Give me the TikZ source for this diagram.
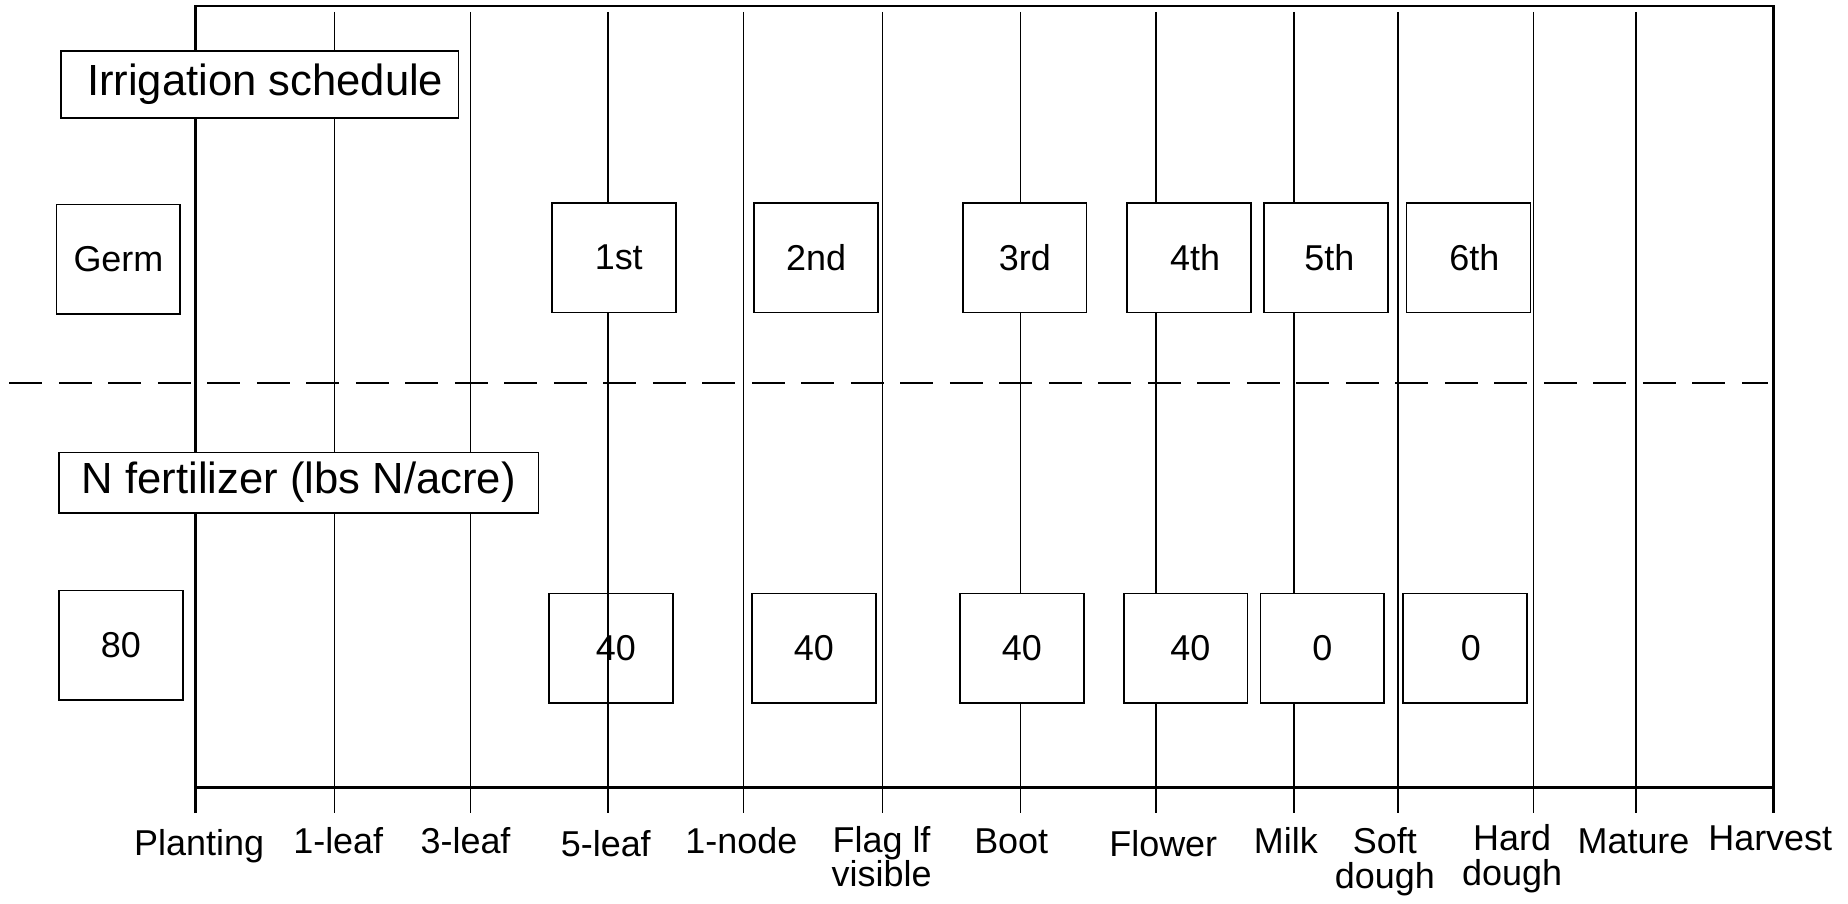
\documentclass[tikz,border=0pt]{standalone}
\usepackage{fontspec}
\setmainfont{Liberation Sans}

\begin{document}
\begin{tikzpicture}[x=0.5pt,y=-0.5pt,
  stagebox/.style={draw,line width=0.7pt,fill=white,minimum width=52.5pt,minimum height=46.5pt,inner sep=0pt,font=\fontsize{15.25}{18}\selectfont},
  titlebox/.style={draw,line width=0.7pt,fill=white,inner sep=0pt,font=\fontsize{18.5}{22}\selectfont},
  stagelbl/.style={anchor=base,inner sep=0pt,align=center,font=\fontsize{15.25}{14.5}\selectfont}]
\useasboundingbox (0,0) rectangle (1568,767);

% growth stages along the season
\foreach \x/\lx/\by/\nm/\txt in {166/169/725.5/planting/Planting, 284/287/724/leafa/1-leaf,
  399/395/724/leafc/3-leaf, 516/514/727/leafe/5-leaf, 631/629/724/nodea/1-node,
  749/748/752/flag/{Flag lf\\visible}, 866/858/724/boot/Boot, 981/987/726.5/flower/Flower,
  1098/1091/724/milk/Milk, 1186/1175/753.5/soft/{Soft\\dough}, 1301/1283/751/hard/{Hard\\dough},
  1388/1386/724/mature/Mature, 1505/1502/721.5/harvest/Harvest}
{
  \coordinate (top-\nm) at (\x,10);
  \coordinate (tick-\nm) at (\x,690);
  \draw[line width=0.6pt] (top-\nm) -- (tick-\nm);
  \node[stagelbl] (\nm) at (\lx,\by) {\txt};
}
\draw[line width=1.1pt] (166,690) -- (166,5) -- (1505,5) -- (1505,690);
\draw[line width=1.1pt] (166,668) -- (1505,668);

% irrigation
\node[titlebox,minimum width=168.5pt,minimum height=28.5pt] (irrtitle) at (220.5,71.5) {\hspace{4.5pt}Irrigation schedule};
\foreach \nm/\x/\y/\txt in {germ/100.5/220/Germ, irra/521/218.5/\hspace{4pt}1st, irrb/692.5/218.5/2nd,
  irrc/869.5/218.5/3rd, irrd/1009/218.5/\hspace{5pt}4th, irre/1125/218.5/\hspace{3pt}5th, irrf/1246/218.5/\hspace{5pt}6th}
  \node[stagebox] (\nm) at (\x,\y) {\txt};

\draw[line width=0.7pt,dash pattern=on 14pt off 7pt] (8,325) -- (1500,325);

% nitrogen
\node[titlebox,minimum width=203.5pt,minimum height=25.5pt] (ntitle) at (253.5,409.5) {N fertilizer (lbs N/acre)\hspace{4pt}};
\node[stagebox] (npre) at (102.5,547.5) {80\hspace{5pt}};
\node[stagebox,fill=none] (na) at (518.5,550) {\hspace{4pt}40};
\foreach \nm/\x/\txt in {nb/690.5/40, nc/867/40, nd/1006/\hspace{4pt}40, ne/1122/0\hspace{4pt}, nf/1243/\hspace{5pt}0}
  \node[stagebox] (\nm) at (\x,550) {\txt};
\end{tikzpicture}
\end{document}
